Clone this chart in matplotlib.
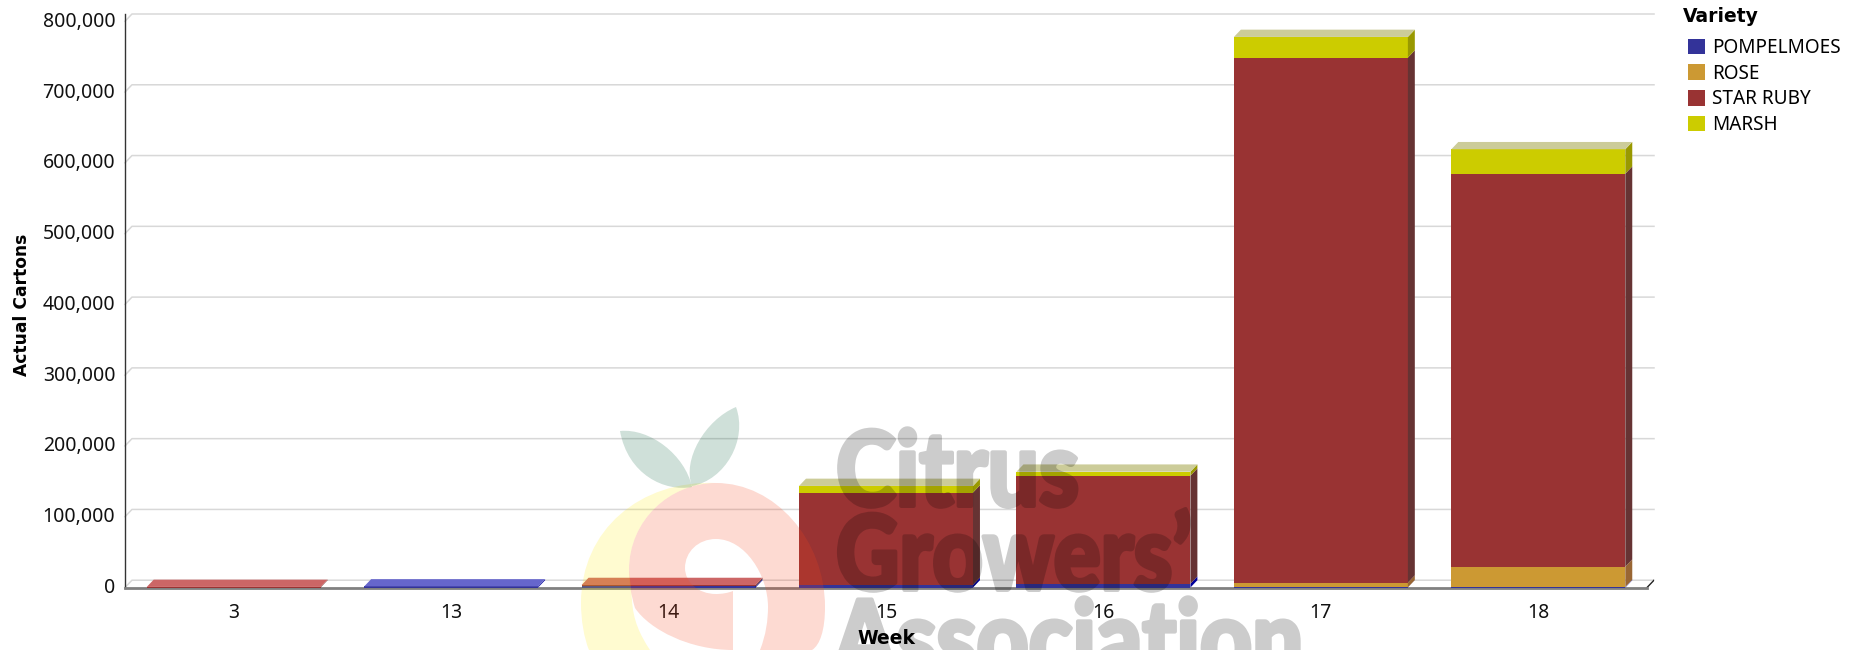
import numpy as np
import matplotlib
matplotlib.use('Agg')
import matplotlib.pyplot as plt
from matplotlib.patches import Polygon, PathPatch, Patch
from matplotlib.patheffects import AbstractPathEffect
from matplotlib.path import Path
from matplotlib.transforms import Affine2D

### DATA
weeks = ['3', '13', '14', '15', '16', '17', '18']
pompelmoes = [0, 1500, 1500, 3800, 5400, 200, 800]
rose = [0, 0, 0, 0, 0, 6600, 28600]
star_ruby = [800, 0, 2000, 130400, 152600, 741900, 555300]
marsh = [0, 0, 0, 9300, 5600, 29200, 34500]
varieties = ['POMPELMOES', 'ROSE', 'STAR RUBY', 'MARSH']
y_ticks = [0, 100000, 200000, 300000, 400000, 500000, 600000, 700000, 800000]

### STYLE
front_col = ['#333399', '#cc9933', '#993333', '#cccc00']
top_col = ['#6666cc', '#cc9966', '#cc6666', '#cccc99']
side_col = ['#000099', '#996633', '#663333', '#999900']
depth_x = 0.032
depth_y = 10300
bar_w = 0.8
W, H = 1866, 650

plt.rcParams['font.family'] = ['Noto Sans', 'DejaVu Sans']

fig = plt.figure(figsize=(W/100, H/100), dpi=100)
ax = fig.add_axes([125/W, 1-587.5/H, (1654-125)/W, (587.5-14)/H])
ax.set_xlim(-0.5, 6.5+depth_x)
ax.set_ylim(0, 800000+depth_y)

# 3d looking grid lines
for v in y_ticks:
    ax.plot([-0.5, -0.5+depth_x, 6.5+depth_x], [v, v+depth_y, v+depth_y],
            color='#d8d8d8', lw=1.1, zorder=1, clip_on=False)
ax.plot([6.5, 6.5+depth_x], [0, depth_y], color='#222222', lw=1, zorder=1)

# stacked bars, front + side for every segment, top only on last one
series = [pompelmoes, rose, star_ruby, marsh]
x = np.arange(len(weeks))
bottom = np.zeros(len(weeks))
for s in range(4):
    vals = np.array(series[s], dtype=float)
    ax.bar(x, vals, bar_w, bottom=bottom, color=front_col[s], zorder=3)
    for i in range(len(weeks)):
        if vals[i] == 0:
            continue
        x1 = x[i]+bar_w/2
        y0 = bottom[i]
        y1 = y0+vals[i]
        ax.add_patch(Polygon([(x1, y0), (x1+depth_x, y0+depth_y), (x1+depth_x, y1+depth_y), (x1, y1)],
                             facecolor=side_col[s], lw=0, zorder=3))
    bottom = bottom+vals
for i in range(len(weeks)):
    last = [s for s in range(4) if series[s][i] > 0][-1]
    x0 = x[i]-bar_w/2
    x1 = x[i]+bar_w/2
    ax.add_patch(Polygon([(x0, bottom[i]), (x1, bottom[i]), (x1+depth_x, bottom[i]+depth_y), (x0+depth_x, bottom[i]+depth_y)],
                         facecolor=top_col[last], lw=0, zorder=3))

ax.set_xticks(x)
ax.set_xticklabels(weeks)
ax.set_yticks(y_ticks)
ax.set_yticklabels([format(v, ',') for v in y_ticks])
ax.tick_params(length=0, labelsize=14, colors='#111111')
ax.tick_params(axis='x', pad=11)
ax.tick_params(axis='y', pad=7)
# labels sit a bit above the front grid level
for lab in ax.get_yticklabels():
    lab.set_transform(lab.get_transform()+Affine2D().translate(0, 2))
for sp in ['top', 'right']:
    ax.spines[sp].set_visible(False)
ax.spines['left'].set_color('#333333')
ax.spines['left'].set_linewidth(1)
ax.spines['bottom'].set_color('#808080')
ax.spines['bottom'].set_linewidth(2)
ax.spines['bottom'].set_bounds(-0.5, 6.5)

bold = dict(family='DejaVu Sans', fontweight='bold', color='black', zorder=5)
fig.text(886/W, 1-638/H, 'Week', ha='center', va='center', fontsize=13.5, **bold)
fig.text(22/W, 1-305/H, 'Actual Cartons', ha='center', va='center', rotation=90, fontsize=12.3, **bold)
fig.text(1683/W, 1-17/H, 'Variety', ha='left', va='center', fontsize=13.5, **bold)

# legend
handles = [Patch(facecolor=c, edgecolor='none') for c in front_col]
leg = fig.legend(handles, varieties, loc='upper left', bbox_to_anchor=(1688/W, 1-38/H), frameon=False,
                 fontsize=13.7, handlelength=0.9, handleheight=0.9, handletextpad=0.38, labelspacing=0.3,
                 borderpad=0, borderaxespad=0)

# watermark logo, drawn in image pixels with y going down
px = Affine2D().scale(1, -1).translate(0, H)
def logo_shape(start, curves, color):
    verts = [start]
    codes = [Path.MOVETO]
    for c in curves:
        if len(c) == 1:
            verts += c
            codes += [Path.LINETO]
        else:
            verts += c
            codes += [Path.CURVE4]*3
    verts.append(start)
    codes.append(Path.CLOSEPOLY)
    p = PathPatch(Path(verts, codes), facecolor=color, edgecolor='none', alpha=0.2, transform=px, zorder=4)
    fig.add_artist(p)

logo_shape((716, 483), [[(775, 483), (825, 540), (825, 607)],
                        [(825, 630), (820, 645), (812, 650)],
                        [(760, 650)],
                        [(766, 635), (768, 620), (768, 607)],
                        [(768, 575), (745, 539), (716, 539)],
                        [(698, 539), (685, 552), (685, 568)],
                        [(685, 582), (698, 594), (716, 594)],
                        [(722, 594), (728, 593), (733, 591)],
                        [(733, 650)],
                        [(690, 650), (650, 630), (635, 608)],
                        [(631, 595), (629, 582), (629, 570)],
                        [(629, 520), (670, 483), (716, 483)]], (245/255, 70/255, 30/255))
logo_shape((716, 483), [[(640, 480), (581, 530), (581, 603)],
                        [(581, 620), (584, 638), (589, 650)],
                        [(650, 650)],
                        [(640, 635), (633, 620), (632, 600)],
                        [(629, 570)],
                        [(629, 520), (670, 483), (716, 483)]], (255/255, 235/255, 20/255))
logo_shape((620, 431), [[(650, 428), (685, 455), (692, 487)],
                        [(665, 492), (628, 475), (620, 431)]], (15/255, 100/255, 65/255))
logo_shape((736, 407), [[(705, 420), (682, 460), (692, 486)],
                        [(725, 480), (748, 440), (736, 407)]], (15/255, 100/255, 65/255))

# watermark font is a condensed black one: squeeze the glyphs sideways about the left edge and thicken them
class Squeeze(AbstractPathEffect):
    def __init__(self, sx, x0, lw):
        self.sx = sx
        self.x0 = x0
        self.lw = lw
    def draw_path(self, renderer, gc, tpath, affine, rgbFace=None):
        a = affine+Affine2D().translate(-self.x0, 0).scale(self.sx, 1).translate(self.x0, 0)
        gc0 = renderer.new_gc()
        gc0.copy_properties(gc)
        gc0.set_foreground('black')
        gc0.set_linewidth(self.lw)
        renderer.draw_path(gc0, tpath, a, rgbFace)
        gc0.restore()

# text is drawn solid and faded afterwards, so stroke and fill don't add up
def fade(img, dpi):
    img = img.copy()
    img[:, :, 3] = img[:, :, 3]*0.2
    return img, 0, 0

wm = dict(family='Lato', fontweight='black', fontsize=75, color='black',
          ha='left', va='baseline', zorder=4)
for txt, xp, yp, sx in [('Citrus', 836, 506, 0.87),
                        ('Growers\u2019', 836, 590, 0.84),
                        ('Association', 833, 675, 0.868)]:
    t = fig.text(xp/W, 1-yp/H, txt, **wm)
    t.set_path_effects([Squeeze(sx, xp, 2.9)])
    t.set_agg_filter(fade)

plt.savefig('out.png', dpi=100)
